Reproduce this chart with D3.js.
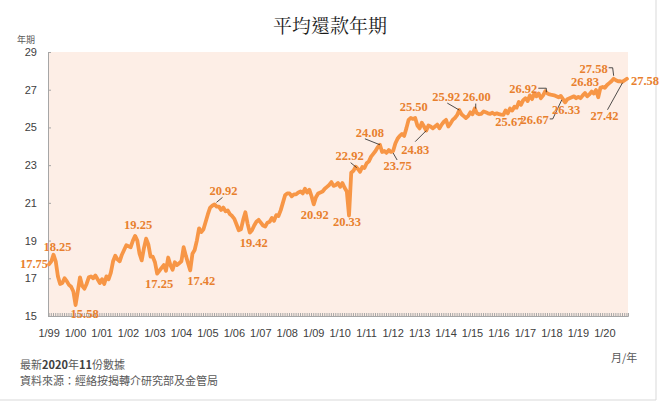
<!DOCTYPE html>
<html>
<head>
<meta charset="utf-8">
<script src="https://cdn.jsdelivr.net/npm/d3@7"></script>
<style>
  body { margin: 0; background: #fff; }
  .tick text { font-family: "Liberation Sans", Arial, sans-serif; font-size: 11px; fill: #404040; }
  .note { font-family: "Noto Sans CJK TC", sans-serif; font-size: 11px; fill: #595959; }
</style>
</head>
<body>
<div id="chart"></div>
<script>
// monthly average repayment term (years), Jan 1999 .. Nov 2020
const avgTerm = [
  17.75, 17.9, 18.25, 17.9, 17.1, 16.7, 16.75, 17.0, 16.85, 16.65, 16.55, 16.3,     // 1999
  15.58, 16.3, 17.05, 16.6, 16.45, 16.7, 17.05, 17.1, 17.0, 17.15, 16.95, 16.75,    // 2000
  16.95, 16.7, 17.1, 16.95, 17.3, 17.9, 18.2, 18.0, 17.9, 18.25, 18.5, 18.75,       // 2001
  18.7, 18.65, 19.0, 19.25, 19.0, 18.3, 17.95, 18.6, 19.1, 18.8, 18.15, 18.15,      // 2002
  17.85, 17.25, 17.4, 17.55, 17.7, 17.4, 18.1, 17.7, 17.45, 17.85, 17.7, 17.8,      // 2003
  17.9, 18.65, 18.2, 17.8, 17.42, 18.3, 18.5, 19.0, 19.65, 19.45, 19.6, 20.0,       // 2004
  20.4, 20.75, 20.85, 20.92, 20.8, 20.8, 20.62, 20.75, 20.55, 20.6, 20.4, 20.3,     // 2005
  20.15, 19.85, 19.55, 19.6, 20.1, 20.5, 19.9, 19.42, 19.55, 19.8, 20.0, 20.1,      // 2006
  19.95, 19.8, 19.75, 19.95, 20.0, 20.2, 20.05, 20.35, 20.3, 20.6, 21.0, 21.4,      // 2007
  21.5, 21.5, 21.35, 21.45, 21.45, 21.55, 21.6, 21.5, 21.75, 21.55, 21.7, 21.35,    // 2008
  20.92, 21.3, 21.5, 21.55, 21.6, 21.75, 21.85, 21.95, 22.1, 21.9, 21.95, 22.05,    // 2009
  21.85, 22.05, 21.8, 21.6, 20.33, 22.6, 22.7, 22.92, 22.8, 22.65, 22.9, 22.85,     // 2010
  23.1, 23.2, 23.45, 23.6, 23.75, 23.95, 24.08, 23.7, 23.75, 23.65, 23.8, 23.7,     // 2011
  23.75, 24.15, 24.4, 24.55, 24.65, 24.55, 24.95, 25.4, 25.5, 25.45, 25.5, 25.1,    // 2012
  24.95, 25.25, 25.05, 24.83, 25.1, 25.05, 24.95, 25.05, 25.15, 24.95, 25.15, 25.3, // 2013
  25.4, 25.05, 25.2, 25.4, 25.5, 25.65, 25.92, 25.7, 25.6, 25.5, 25.6, 25.8,        // 2014
  25.7, 26.0, 25.75, 25.7, 25.72, 25.85, 25.8, 25.75, 25.72, 25.78, 25.7, 25.75,    // 2015
  25.7, 25.68, 25.67, 25.9, 25.75, 26.0, 25.9, 26.1, 26.05, 26.35, 26.2, 26.45,     // 2016
  26.55, 26.4, 26.7, 26.5, 26.8, 26.65, 26.8, 26.55, 26.7, 26.92, 26.8, 26.75,      // 2017
  26.72, 26.7, 26.65, 26.6, 26.67, 26.5, 26.33, 26.5, 26.55, 26.6, 26.65, 26.55,    // 2018
  26.62, 26.55, 26.7, 26.83, 26.65, 26.75, 26.9, 26.8, 26.98, 26.6, 27.1, 27.15,    // 2019
  27.1, 27.25, 27.35, 27.45, 27.58, 27.5, 27.45, 27.45, 27.42, 27.5, 27.58          // 2020
];

const yearLabels = ["1/99", "1/00", "1/01", "1/02", "1/03", "1/04", "1/05", "1/06", "1/07", "1/08", "1/09",
  "1/10", "1/11", "1/12", "1/13", "1/14", "1/15", "1/16", "1/17", "1/18", "1/19", "1/20"];
const yTicks = [15, 17, 19, 21, 23, 25, 27, 29];

// months that carry a value label
const calloutMonths = [0, 2, 12, 39, 49, 64, 75, 91, 120, 136, 139, 150, 156, 164, 171, 186, 193, 206, 225, 232, 234, 243, 256, 260, 262];

const titleText = "平均還款年期";
const unitText = "年期";
const axisText = "月/年";

// label placement relative to the point: dx, dy (baseline), anchor, leader path
const calloutLayout = {
  0:   { dx: -1,  dy: 4,  a: "end" },
  2:   { dx: 4,   dy: -4 },
  12:  { dx: 9,   dy: 13 },
  39:  { dx: 3,   dy: -7 },
  49:  { dx: 2,   dy: 14 },
  64:  { dx: 11,  dy: 15 },
  75:  { dx: 9,   dy: -9,  path: [[2, -2], [8, -7]] },
  91:  { dx: 4,   dy: 14 },
  120: { dx: 1,   dy: 15 },
  136: { dx: -2,  dy: 11 },
  139: { dx: -6,  dy: -7,  path: [[-5, -4], [1, 1]] },
  150: { dx: -10, dy: -8,  path: [[-15, -6], [0, 0]] },
  156: { dx: 4.5, dy: 19,  path: [[0, 2], [4, 9]] },
  164: { dx: 3,   dy: -7 },
  171: { dx: -11, dy: 23,  path: [[-11, 11], [0, 0]] },
  186: { dx: -13, dy: -9,  path: [[-12, -7], [0, 0]] },
  193: { dx: 2,   dy: -8,  path: [[1, -5], [1, 0]] },
  206: { dx: 6,   dy: 11 },
  225: { dx: -8,  dy: 2,   a: "end", path: [[-7, -3], [1, -3], [1, 1]] },
  232: { dx: -12, dy: 28,  a: "end", path: [[-11, 23], [-8, 23], [1, 4]] },
  234: { dx: 1,   dy: 12 },
  243: { dx: 0,   dy: -7 },
  256: { dx: -6,  dy: -6,  a: "end", path: [[-5, -11], [-1, -11], [0, -3]] },
  260: { dx: -18, dy: 38,  path: [[-15, 28], [0, 1]] },
  262: { dx: 4,   dy: 6,   a: "start" }
};

const W = 663, H = 404;
const margin = { top: 52, left: 48, right: 35, bottom: 88 };
const width = W - margin.left - margin.right,
      height = H - margin.top - margin.bottom;

const svg = d3.select("#chart").append("svg")
  .attr("width", W)
  .attr("height", H);

// outer frame (right and bottom edges only)
svg.append("path")
  .attr("d", "M656,0V400H0")
  .attr("fill", "none")
  .attr("stroke", "#d9d9d9");

svg.append("text")
  .attr("x", 330).attr("y", 33)
  .attr("text-anchor", "middle")
  .style("font-family", "'Noto Serif CJK TC', 'Noto Sans CJK TC', serif")
  .style("font-size", "19px")
  .style("fill", "#1a1a1a")
  .text(titleText);

const g = svg.append("g")
  .attr("transform", "translate(" + margin.left + "," + margin.top + ")");

g.append("rect")
  .attr("width", width)
  .attr("height", height)
  .attr("fill", "#FDEEE6");

const months = d3.range(avgTerm.length);
const x = d3.scaleBand().domain(months).range([0, width]);
const cx = i => x(i) + x.bandwidth() / 2;
const y = d3.scaleLinear().domain([15, 29]).range([height, 0]);

// y axis, ticks pointing inside
const yAxis = g.append("g")
  .call(d3.axisLeft(y).tickValues(yTicks).tickSize(-3).tickPadding(11));
yAxis.selectAll("path, line").attr("stroke", "#a6a6a6");

// monthly minor ticks on the bottom axis
const xMinor = g.append("g")
  .attr("transform", "translate(0," + height + ")")
  .call(d3.axisBottom(x).tickValues(months).tickSize(-3).tickFormat(""));
xMinor.selectAll("path, line").attr("stroke", "#a6a6a6");

const januaries = months.filter(i => i % 12 === 0);
const xMajor = g.append("g")
  .attr("transform", "translate(0," + height + ")")
  .call(d3.axisBottom(x).tickValues(januaries).tickSize(0).tickPadding(13)
    .tickFormat((d, k) => yearLabels[k]));
xMajor.select(".domain").remove();

const line = d3.line()
  .x((d, i) => cx(i))
  .y(d => y(d));

g.append("path")
  .datum(avgTerm)
  .attr("fill", "none")
  .attr("stroke", "#F79646")
  .attr("stroke-width", 3.8)
  .attr("stroke-linejoin", "round")
  .attr("stroke-linecap", "round")
  .attr("d", line);

const fmt = d3.format(".2f");
const callouts = g.append("g");
calloutMonths.forEach(function (i) {
  const px = cx(i), py = y(avgTerm[i]);
  const c = calloutLayout[i];
  if (c.path) {
    callouts.append("path")
      .attr("d", "M" + c.path.map(p => (px + p[0]) + "," + (py + p[1])).join("L"))
      .attr("fill", "none")
      .attr("stroke", "#222")
      .attr("stroke-width", 0.8);
  }
  callouts.append("text")
    .attr("x", px + c.dx)
    .attr("y", py + c.dy)
    .attr("text-anchor", c.a || "middle")
    .attr("font-family", "Times New Roman, Liberation Serif, DejaVu Serif, Noto Serif, serif")
    .attr("font-size", 12.5)
    .attr("font-weight", "bold")
    .attr("fill", "#E8802E")
    .text(fmt(avgTerm[i]));
});

// unit labels and notes
svg.append("text").attr("class", "note")
  .attr("x", 17).attr("y", 43)
  .style("font-size", "9px")
  .text(unitText);

svg.append("text").attr("class", "note")
  .attr("x", 611).attr("y", 362)
  .text(axisText);

const note1 = svg.append("text").attr("class", "note")
  .attr("x", 20).attr("y", 369);
note1.append("tspan").text("最新");
note1.append("tspan").style("font-weight", "bold").style("fill", "#404040").text("2020");
note1.append("tspan").text("年");
note1.append("tspan").style("font-weight", "bold").style("fill", "#404040").text("11");
note1.append("tspan").text("份數據");

svg.append("text").attr("class", "note")
  .attr("x", 20).attr("y", 385)
  .text("資料來源：經絡按揭轉介研究部及金管局");
</script>
</body>
</html>
